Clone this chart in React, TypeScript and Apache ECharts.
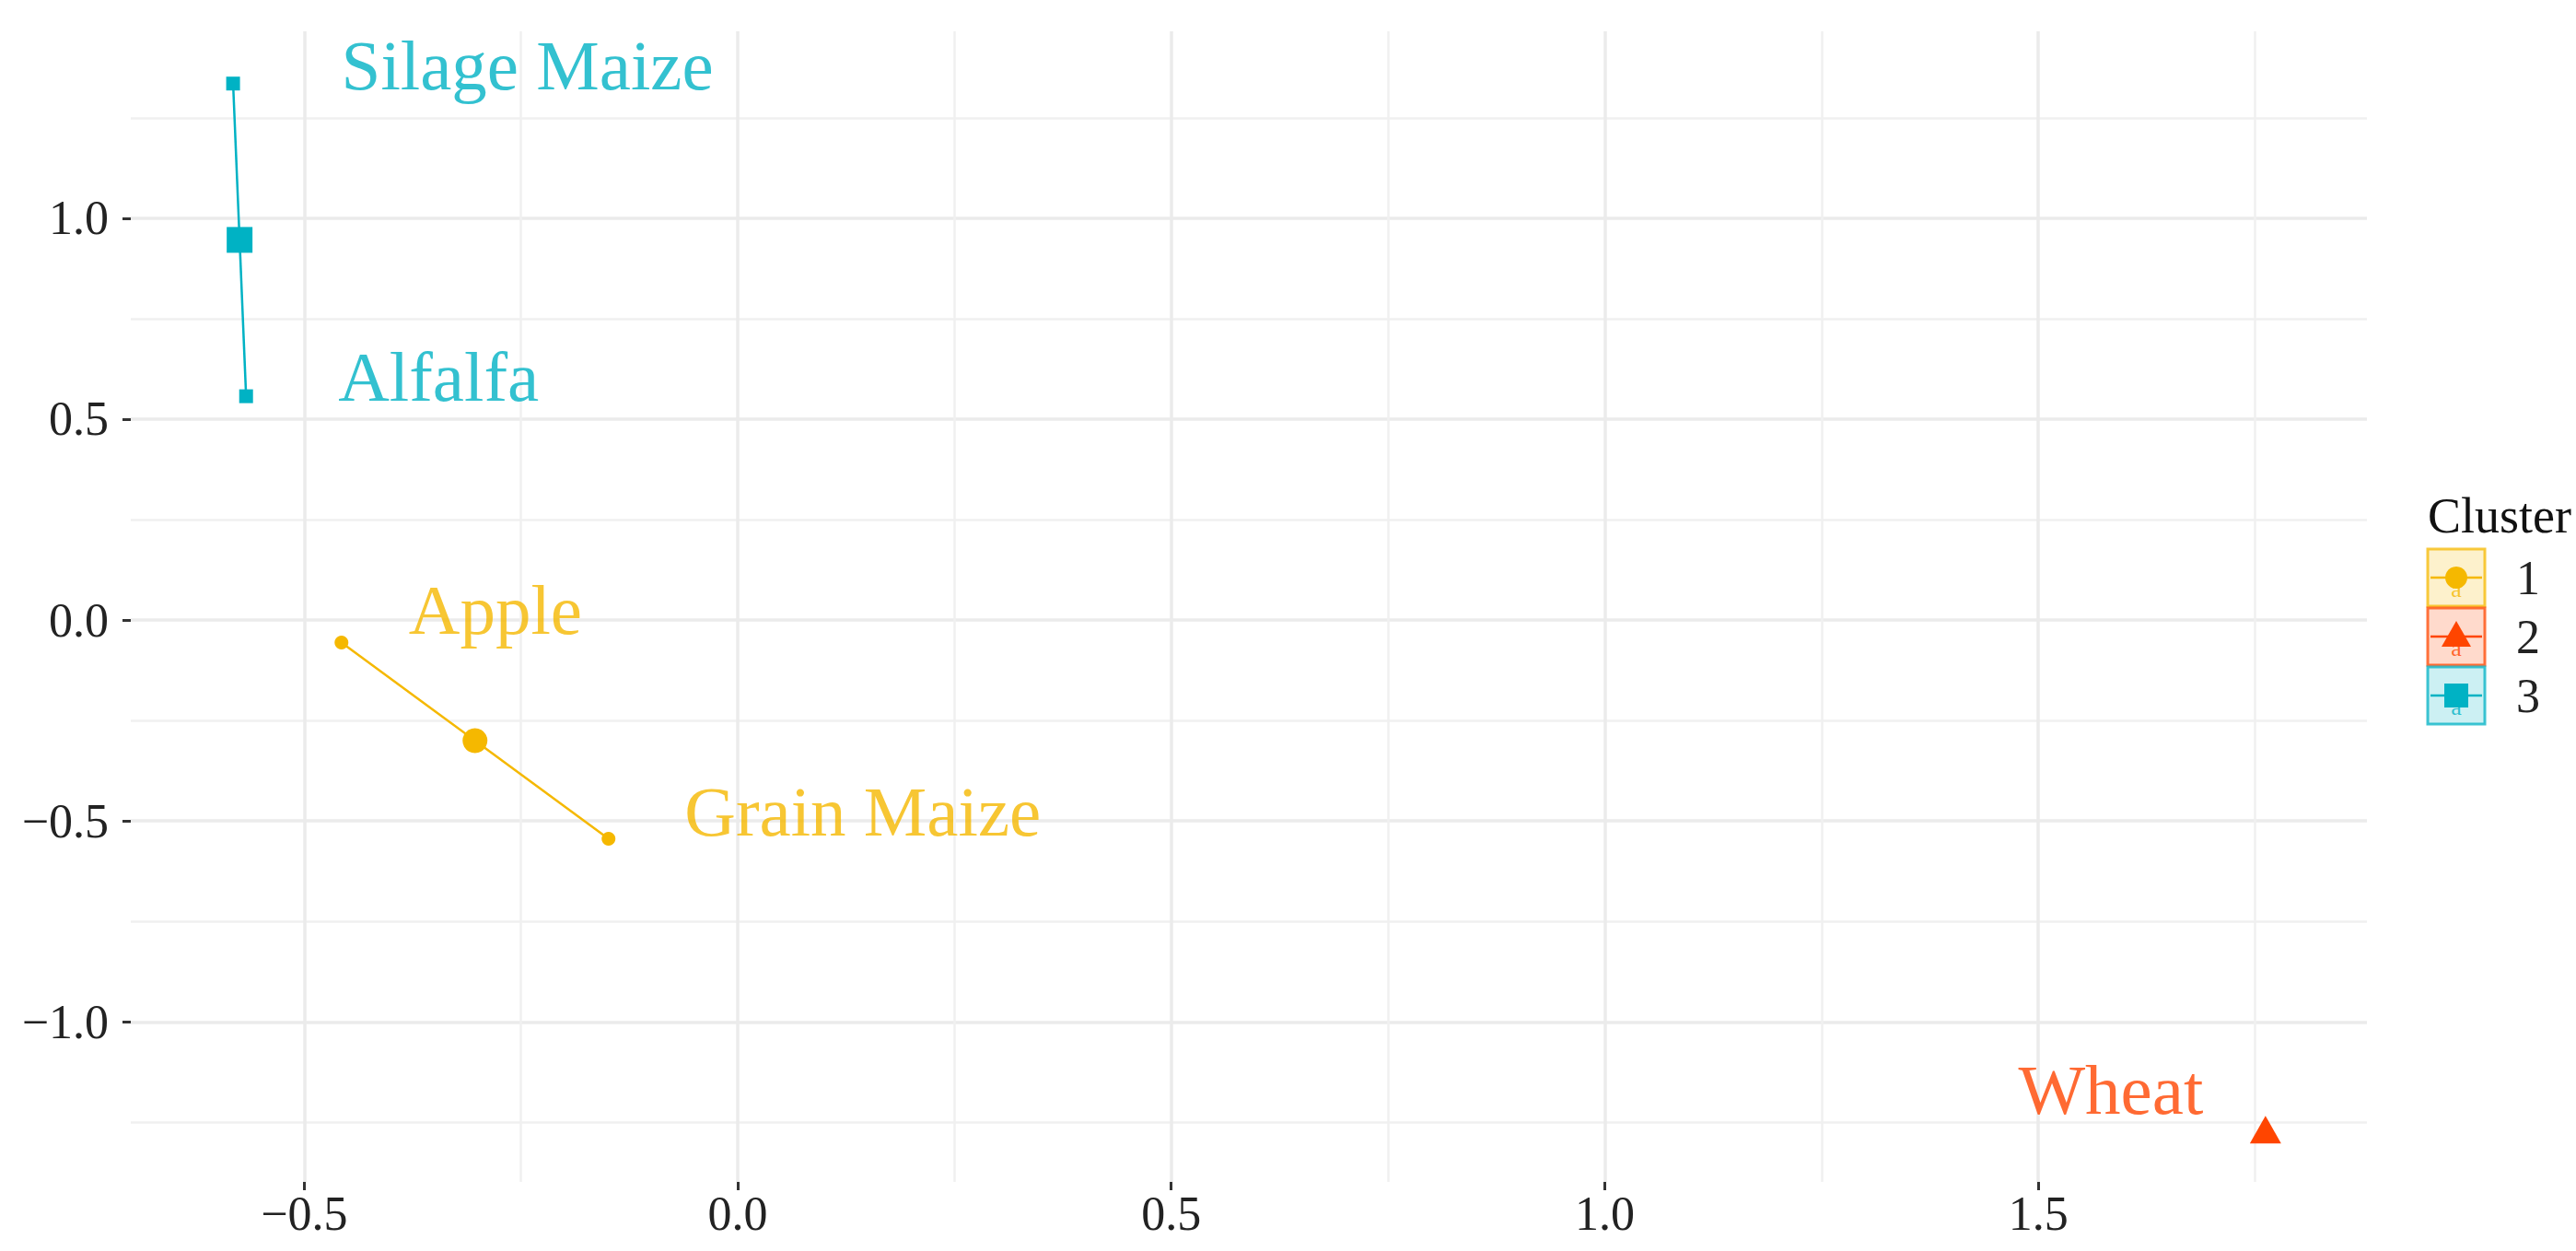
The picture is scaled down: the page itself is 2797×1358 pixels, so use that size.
import React, { useEffect, useRef } from "react";
import * as echarts from "echarts";

// ---- data ----
const clusterNames = ["1", "2", "3"];
const clusterColors = ["#F5B800", "#FF4500", "#00B2C4"];
const clusterSymbols = ["circle", "triangle", "rect"];

const cropNames = ["Apple", "Grain Maize", "Wheat", "Silage Maize", "Alfalfa"];
const cropCluster = [0, 0, 1, 2, 2];
const cropX = [-0.457, -0.149, 1.762, -0.582, -0.567];
const cropY = [-0.056, -0.544, -1.268, 1.335, 0.557];
const labelX = [-0.2795, 0.1442, 1.5836, -0.2426, -0.345];
const labelY = [0.0245, -0.477, -1.169, 1.381, 0.605];

const centerX = [-0.303, 1.762, -0.5745];
const centerY = [-0.3, -1.268, 0.946];

const xMajorTicks = [-0.5, 0, 0.5, 1, 1.5];
const xMinorTicks = [-0.25, 0.25, 0.75, 1.25, 1.75];
const yMajorTicks = [-1, -0.5, 0, 0.5, 1];
const yMinorTicks = [-1.25, -0.75, -0.25, 0.25, 0.75, 1.25];

const X_MIN = -0.7;
const X_MAX = 1.879;
const Y_MIN = -1.398;
const Y_MAX = 1.465;

const FONT = "'Liberation Serif', 'Times New Roman', serif";

function fmt(v: number) {
  const s = Math.abs(v).toFixed(1);
  return v < -1e-9 ? "\u2212" + s : s;
}

function rgba(hex: string, a: number) {
  const r = parseInt(hex.slice(1, 3), 16);
  const g = parseInt(hex.slice(3, 5), 16);
  const b = parseInt(hex.slice(5, 7), 16);
  return `rgba(${r},${g},${b},${a})`;
}

function symbolSizeFor(sym: string, big: boolean) {
  if (sym === "triangle") return big ? [34, 30] : [16, 14];
  if (sym === "rect") return big ? 28 : 15;
  return big ? 27 : 15;
}

export default function App() {
  const ref = useRef<HTMLDivElement>(null);

  useEffect(() => {
    if (!ref.current) return;
    const chart = echarts.init(ref.current, null, { renderer: "svg" });

    const series: any[] = [];

    // segments from each crop to its cluster centre
    cropNames.forEach((name, i) => {
      const c = cropCluster[i];
      series.push({
        type: "line",
        name: "seg-" + name,
        xAxisIndex: 0,
        yAxisIndex: 0,
        data: [
          [cropX[i], cropY[i]],
          [centerX[c], centerY[c]],
        ],
        symbol: "none",
        lineStyle: { color: clusterColors[c], width: 2.5 },
        silent: true,
        z: 2,
      });
    });

    // member points and centres
    clusterNames.forEach((cn, c) => {
      const pts = cropNames
        .map((n, i) => ({ n, i }))
        .filter((o) => cropCluster[o.i] === c)
        .map((o) => ({ name: o.n, value: [cropX[o.i], cropY[o.i]] }));
      series.push({
        type: "scatter",
        name: "pts-" + cn,
        data: pts,
        symbol: clusterSymbols[c],
        symbolSize: symbolSizeFor(clusterSymbols[c], false),
        itemStyle: { color: clusterColors[c], opacity: 1 },
        silent: true,
        z: 3,
      });
      series.push({
        type: "scatter",
        name: "ctr-" + cn,
        data: [[centerX[c], centerY[c]]],
        symbol: clusterSymbols[c],
        symbolSize: symbolSizeFor(clusterSymbols[c], true),
        itemStyle: { color: clusterColors[c], opacity: 1 },
        silent: true,
        z: 4,
      });
    });

    // text labels
    series.push({
      type: "scatter",
      name: "labels",
      symbolSize: 0,
      silent: true,
      z: 5,
      data: cropNames.map((n, i) => ({
        name: n,
        value: [labelX[i], labelY[i]],
        label: { color: clusterColors[cropCluster[i]] },
      })),
      label: {
        show: true,
        position: "inside",
        formatter: "{b}",
        fontSize: 77,
        fontFamily: FONT,
        align: "center",
        verticalAlign: "middle",
      },
    });

    // legend (drawn as graphics)
    const keyX = 2636;
    const keySize = 62;
    const keyTop0 = 596;
    const keyStep = 64;
    const graphics: any[] = [
      {
        type: "text",
        x: keyX,
        y: keyTop0 - 36,
        style: {
          text: "Cluster",
          fontSize: 54,
          fontFamily: FONT,
          fill: "#111",
          align: "left",
          verticalAlign: "middle",
        },
      },
    ];
    clusterNames.forEach((cn, c) => {
      const top = keyTop0 + c * keyStep;
      const cx = keyX + keySize / 2;
      const cy = top + keySize / 2;
      const col = clusterColors[c];
      graphics.push({
        type: "rect",
        shape: { x: keyX, y: top, width: keySize, height: keySize },
        style: { fill: rgba(col, 0.2), stroke: rgba(col, 0.75), lineWidth: 3 },
      });
      graphics.push({
        type: "line",
        shape: { x1: keyX + 3, y1: cy, x2: keyX + keySize - 3, y2: cy },
        style: { stroke: col, lineWidth: 2.5 },
      });
      graphics.push({
        type: "text",
        x: cx,
        y: cy + 12,
        style: {
          text: "a",
          fontSize: 26,
          fontFamily: FONT,
          fill: rgba(col, 0.8),
          align: "center",
          verticalAlign: "middle",
        },
      });
      const sym = clusterSymbols[c];
      if (sym === "circle") {
        graphics.push({ type: "circle", shape: { cx, cy, r: 12 }, style: { fill: col } });
      } else if (sym === "triangle") {
        graphics.push({
          type: "polygon",
          shape: { points: [[cx, cy - 17], [cx - 16, cy + 11], [cx + 16, cy + 11]] },
          style: { fill: col },
        });
      } else {
        graphics.push({
          type: "rect",
          shape: { x: cx - 13, y: cy - 13, width: 26, height: 26 },
          style: { fill: col },
        });
      }
      graphics.push({
        type: "text",
        x: keyX + keySize + 34,
        y: cy,
        style: {
          text: cn,
          fontSize: 52,
          fontFamily: FONT,
          fill: "#222",
          align: "left",
          verticalAlign: "middle",
        },
      });
    });

    const axisLabelBase = {
      fontSize: 52,
      fontFamily: FONT,
      color: "#222",
      formatter: (v: number) => fmt(v),
    };

    const option: any = {
      animation: false,
      backgroundColor: "#ffffff",
      grid: { left: 142, right: 227, top: 34, bottom: 75, containLabel: false },
      xAxis: [
        {
          type: "value",
          min: X_MIN,
          max: X_MAX,
          position: "bottom",
          axisLine: { show: false, onZero: false },
          axisTick: {
            show: true,
            customValues: xMajorTicks,
            length: 9,
            lineStyle: { color: "#333", width: 3 },
          },
          axisLabel: { ...axisLabelBase, customValues: xMajorTicks, margin: 8 },
          splitLine: { show: true, lineStyle: { color: "#EBEBEB", width: 3.5 } },
        },
        {
          type: "value",
          min: X_MIN,
          max: X_MAX,
          position: "bottom",
          axisLine: { show: false, onZero: false },
          axisTick: { show: false, customValues: xMinorTicks },
          axisLabel: { show: false, customValues: xMinorTicks },
          splitLine: { show: true, lineStyle: { color: "#F0F0F0", width: 2.5 } },
        },
      ],
      yAxis: [
        {
          type: "value",
          min: Y_MIN,
          max: Y_MAX,
          position: "left",
          axisLine: { show: false, onZero: false },
          axisTick: {
            show: true,
            customValues: yMajorTicks,
            length: 9,
            lineStyle: { color: "#333", width: 3 },
          },
          axisLabel: { ...axisLabelBase, customValues: yMajorTicks, margin: 24 },
          splitLine: { show: true, lineStyle: { color: "#EBEBEB", width: 3.5 } },
        },
        {
          type: "value",
          min: Y_MIN,
          max: Y_MAX,
          position: "left",
          axisLine: { show: false, onZero: false },
          axisTick: { show: false, customValues: yMinorTicks },
          axisLabel: { show: false, customValues: yMinorTicks },
          splitLine: { show: true, lineStyle: { color: "#F0F0F0", width: 2.5 } },
        },
      ],
      series,
      graphic: graphics,
    };

    chart.setOption(option);
    return () => chart.dispose();
  }, []);

  return (
    <div
      ref={ref}
      style={{ position: "fixed", left: 0, top: 0, width: 2797, height: 1358, background: "#fff" }}
    />
  );
}
